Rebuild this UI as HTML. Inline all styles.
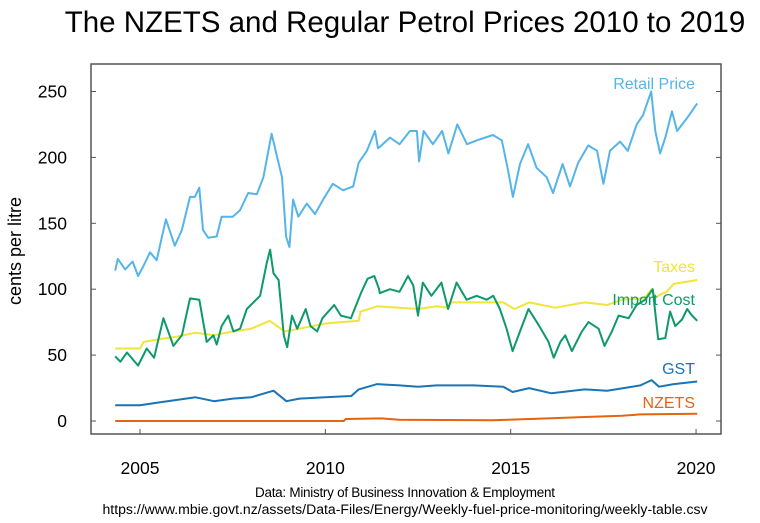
<!DOCTYPE html>
<html><head><meta charset="utf-8"><style>
html,body{margin:0;padding:0;background:#fff;}
svg{display:block;font-family:"Liberation Sans",Arial,sans-serif;}
</style></head><body>
<svg id="chart" width="760" height="523" viewBox="0 0 760 523">
<text x="405" y="32" text-anchor="middle" font-size="29.5" fill="#000">The NZETS and Regular Petrol Prices 2010 to 2019</text>
<rect x="91" y="64" width="630" height="370" fill="none" stroke="#555" stroke-width="1.5"/>
<g id="axes"></g>
<g id="series"></g>
<text transform="translate(21,251) rotate(-90)" text-anchor="middle" font-size="18">cents per litre</text>
<text x="405" y="497" text-anchor="middle" font-size="13.5" textLength="300">Data: Ministry of Business Innovation &amp; Employment</text>
<text x="405" y="514" text-anchor="middle" font-size="13.5" textLength="605" lengthAdjust="spacingAndGlyphs">https://www.mbie.govt.nz/assets/Data-Files/Energy/Weekly-fuel-price-monitoring/weekly-table.csv</text>
</svg>
<script>
const xTicks=[2005,2010,2015,2020];
const yTicks=[0,50,100,150,200,250];
const retailYears=[2004.33,2004.4,2004.6,2004.8,2004.95,2005.1,2005.27,2005.45,2005.7,2005.94,2006.13,2006.35,2006.48,2006.6,2006.7,2006.84,2007.07,2007.2,2007.5,2007.7,2007.92,2008.15,2008.33,2008.55,2008.7,2008.83,2008.94,2009.03,2009.13,2009.27,2009.5,2009.72,2009.94,2010.2,2010.48,2010.75,2010.9,2011.12,2011.34,2011.42,2011.47,2011.74,2012.0,2012.28,2012.47,2012.53,2012.65,2012.9,2013.15,2013.32,2013.56,2013.82,2014.09,2014.52,2014.76,2014.93,2015.06,2015.25,2015.47,2015.7,2015.97,2016.14,2016.4,2016.6,2016.82,2017.09,2017.33,2017.5,2017.68,2017.95,2018.16,2018.4,2018.57,2018.79,2018.9,2019.03,2019.17,2019.35,2019.49,2019.76,2020.03];
const retailValues=[114,123,115,121,110,118,128,122,153,133,145,170,170,177,145,139,140,155,155,160,173,172,185,218,200,185,140,132,168,155,165,157,168,180,175,178,196,205,220,207,208,215,210,220,220,197,220,210,220,203,225,210,213,217,213,190,170,195,210,192,185,173,195,178,196,209,205,180,205,212,205,225,232,250,220,203,215,235,220,230,241];
const importYears=[2004.33,2004.47,2004.65,2004.95,2005.18,2005.38,2005.63,2005.9,2006.13,2006.35,2006.6,2006.8,2006.98,2007.07,2007.2,2007.38,2007.52,2007.7,2007.88,2008.06,2008.24,2008.42,2008.51,2008.6,2008.74,2008.88,2008.97,2009.1,2009.24,2009.47,2009.6,2009.78,2009.92,2010.24,2010.42,2010.69,2010.96,2011.14,2011.32,2011.45,2011.47,2011.74,2012.0,2012.23,2012.37,2012.5,2012.63,2012.86,2013.13,2013.31,2013.54,2013.81,2014.08,2014.35,2014.53,2014.71,2014.89,2015.05,2015.25,2015.48,2015.75,2016.02,2016.16,2016.34,2016.47,2016.65,2016.92,2017.1,2017.37,2017.53,2017.73,2017.91,2018.18,2018.4,2018.63,2018.83,2018.98,2019.17,2019.3,2019.44,2019.62,2019.76,2019.89,2020.03];
const importValues=[49,45,52,42,55,48,78,57,65,93,92,60,65,58,72,80,68,70,85,90,95,120,130,112,107,65,56,80,70,85,72,68,78,88,80,78,97,108,110,100,97,100,98,110,103,80,105,95,105,85,105,92,95,92,95,85,70,53,68,85,73,60,48,60,65,53,68,75,70,57,68,80,78,88,92,100,62,63,83,72,77,85,80,76];
const taxYears=[2004.33,2005.0,2005.1,2005.5,2006,2006.5,2007,2007.5,2008,2008.5,2008.9,2009.3,2010,2010.9,2010.95,2011.4,2012,2012.5,2013,2013.3,2013.4,2014,2014.8,2015.1,2015.5,2016.2,2017,2017.6,2018,2018.6,2018.8,2018.9,2019.2,2019.4,2020.03];
const taxValues=[55,55,60,62,64,67,65,68,70,76,68,70,74,76,83,87,86,85,87,86,90,90,90,85,90,86,90,88,92,93,100,94,98,104,107];
const gstYears=[2004.33,2005,2005.5,2006,2006.5,2007,2007.5,2008,2008.6,2008.95,2009.3,2010,2010.7,2010.9,2011.4,2012,2012.5,2013,2014,2014.8,2015.05,2015.5,2016.1,2017,2017.6,2018.5,2018.8,2019,2019.4,2020.03];
const gstValues=[12,12,14,16,18,15,17,18,23,15,17,18,19,24,28,27,26,27,27,26,22,25,21,24,23,27,31,26,28,30];
const etsYears=[2004.33,2010.5,2010.55,2011.5,2012,2014.5,2016,2017,2018,2018.5,2020.03];
const etsValues=[0,0,1.5,2,1,0.5,2,3,4,5,5.5];

const X=y=>140+(y-2005)*37.07;
const Y=v=>421-v*1.318;
const NS='http://www.w3.org/2000/svg';
const axes=document.getElementById('axes');
const ser=document.getElementById('series');
function mk(tag,attrs,parent){const e=document.createElementNS(NS,tag);for(const k in attrs)e.setAttribute(k,attrs[k]);parent.appendChild(e);return e;}
yTicks.forEach(v=>{
  const l=mk('line',{x1:91,x2:96,y1:Y(v),y2:Y(v),stroke:'#555','stroke-width':1},axes);
  
  
  const r=mk('line',{x1:716,x2:721,y1:Y(v),y2:Y(v),stroke:'#555','stroke-width':1},axes);
  
  
  const t=mk('text',{x:67,y:Y(v)+6,'text-anchor':'end','font-size':17.5},axes);
  t.textContent=v;
  
  
});
xTicks.forEach(v=>{
  const l=mk('line',{x1:X(v),x2:X(v),y1:429,y2:434,stroke:'#555','stroke-width':1},axes);
  
  
  const t=mk('text',{x:X(v),y:474,'text-anchor':'middle','font-size':17.5},axes);
  t.textContent=v;
  
  
});
function line(xs,vs,color,name){
  const d=xs.map((x,i)=>(i?'L':'M')+X(x).toFixed(1)+' '+Y(vs[i]).toFixed(1)).join(' ');
  const p=mk('path',{d:d,fill:'none',stroke:color,'stroke-width':2,'stroke-linejoin':'round'},ser);
  
  
}
line(etsYears,etsValues,'#e4640f','nzets-line');
line(gstYears,gstValues,'#1a74b8','gst-line');
line(taxYears,taxValues,'#f1e43a','taxes-line');
line(importYears,importValues,'#0d9a68','import-cost-line');
line(retailYears,retailValues,'#55b4ea','retail-price-line');
function lab(txt,y,color,name){
  const t=mk('text',{x:695,y:y,'text-anchor':'end','font-size':16,fill:color},ser);
  t.textContent=txt;
  
  
}
lab('Retail Price',89,'#55b4ea','retail-price-label');
lab('Taxes',272,'#f1e43a','taxes-label');
lab('Import Cost',305,'#0d9a68','import-cost-label');
lab('GST',374,'#1a74b8','gst-label');
lab('NZETS',408,'#e4640f','nzets-label');
</script>
</body></html>
